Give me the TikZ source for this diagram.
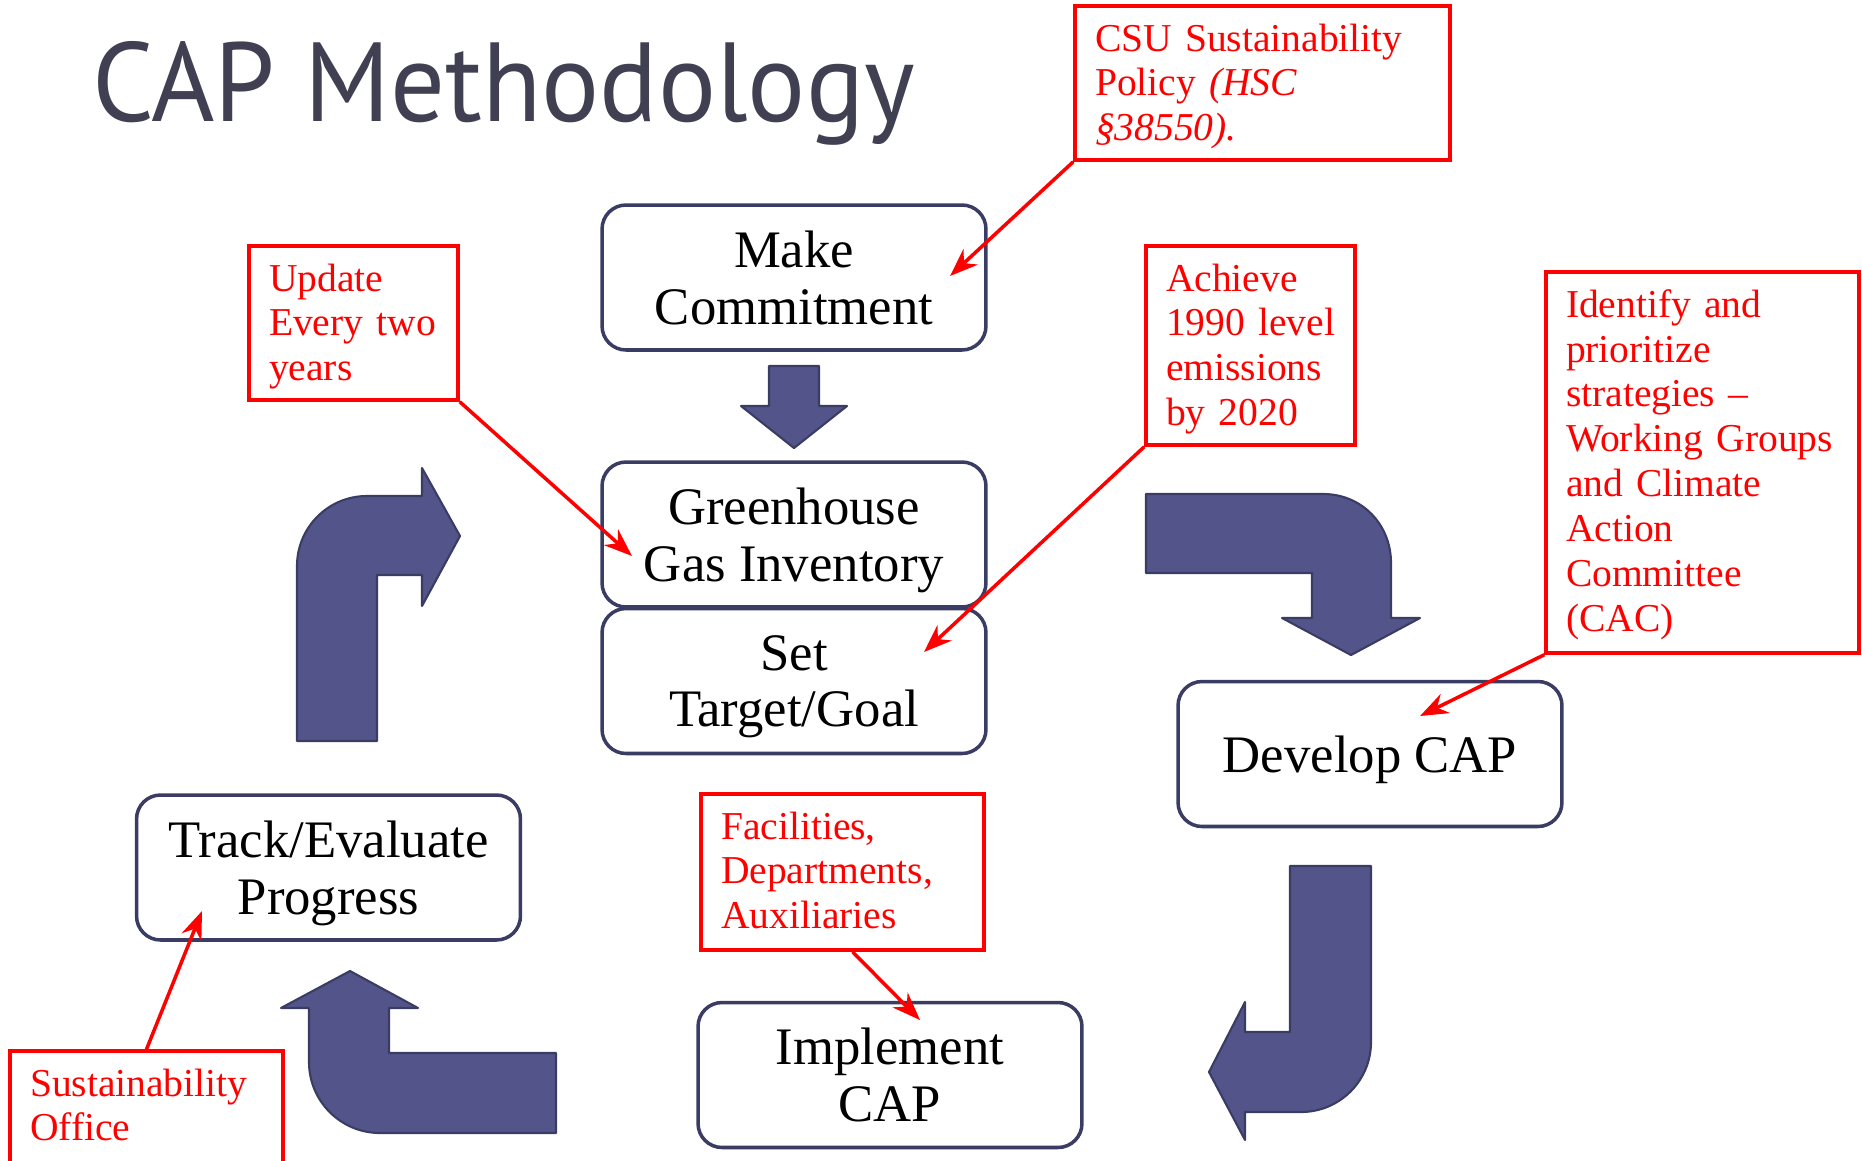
\documentclass[tikz,border=0pt]{standalone}
\usepackage{fontspec}
\setmainfont{Liberation Serif}
\newfontfamily\headfont{PT Sans}
\usetikzlibrary{arrows.meta}
\definecolor{titlegray}{RGB}{64,64,82}
\definecolor{boxline}{RGB}{58,60,100}
\definecolor{arrowfill}{RGB}{83,85,138}
\definecolor{calloutred}{RGB}{255,0,0}

\begin{document}
\begin{tikzpicture}[x=0.02cm,y=-0.02cm,
  stepbox/.style={draw=boxline, line width=2pt, rounded corners=0.48cm, fill=white,
    minimum width=7.68cm, minimum height=2.9cm, inner sep=0pt, align=center,
    text depth=0pt, font=\fontsize{30}{32.4}\selectfont},
  % first baseline sits 0.9cm below the top edge of a callout
  callout/.style={draw=calloutred, line width=2pt, text=calloutred, fill=white,
    inner xsep=0.4cm, inner ysep=0pt, align=left, text height=0.9cm,
    font=\fontsize{22.5}{25.6}\selectfont},
  blockarrow/.style={fill=arrowfill, draw=boxline, line width=1.2pt, line join=round},
  pointer/.style={draw=calloutred, line width=2pt, -{Stealth[length=16pt,width=12pt]}}
]
\useasboundingbox (0,0) rectangle (1862,1160);
\clip (0,0) rectangle (1862,1160);

% heading
\node[anchor=base west, inner sep=0pt, text=titlegray,
      font=\headfont\fontsize{64}{70}\selectfont] (title) at (92,121)
  {\scalebox{0.965}[1]{CAP Methodology}};

% block arrows of the cycle
\draw[blockarrow] (769,366) -- (819,366) -- (819,406) -- (847,406) -- (794,448)
  -- (741,406) -- (769,406) -- cycle;
\draw[blockarrow] (1146,494) -- (1323,494) .. controls (1361.7,494) and (1391,524.3) .. (1391,563)
  -- (1391,618) -- (1420,618) -- (1351,655) -- (1282,618) -- (1312,618) -- (1312,573)
  -- (1146,573) -- cycle;
\draw[blockarrow] (1290,866) -- (1371,866) -- (1371,1042)
  .. controls (1371,1080.7) and (1339.7,1112) .. (1301,1112)
  -- (1245,1112) -- (1245,1140) -- (1209,1072) -- (1245,1002) -- (1245,1032)
  -- (1290,1032) -- cycle;
\draw[blockarrow] (556,1053) -- (556,1133) -- (380,1133)
  .. controls (340.8,1133) and (309,1101.2) .. (309,1062)
  -- (309,1008) -- (281,1008) -- (350,971) -- (418,1008) -- (389,1008) -- (389,1053) -- cycle;
\draw[blockarrow] (297,741) -- (297,566) .. controls (297,527.3) and (328.3,496) .. (367,496)
  -- (422,496) -- (422,468) -- (460,536) -- (422,606) -- (422,575) -- (377,575)
  -- (377,741) -- cycle;

% steps
\node[stepbox] (mc)  at (794,277.5) {Make\\Commitment};
\node[stepbox] (ghg) at (794,534.5) {Greenhouse\\Gas Inventory};
\node[stepbox] (set) at (794,681)   {Set\\Target/Goal};
\node[stepbox] (dev) at (1370,754)  {Develop CAP};
\node[stepbox] (imp) at (890,1075)  {Implement\\CAP};
\node[stepbox] (trk) at (328.5,867.5) {Track/Evaluate\\Progress};

% callouts
\node[callout, minimum width=7.5cm, text width=6.7cm, text depth=2.18cm] (csu) at (1262.5,83)
  {CSU~Sustainability\\Policy \textit{(HSC}\\\textit{§38550).}};
\node[callout, minimum width=4.18cm, text width=3.38cm, text depth=2.18cm] (upd) at (353.5,323)
  {Update\\Every~two\\years};
\node[callout, minimum width=4.18cm, text width=3.38cm, text depth=3.08cm] (ach) at (1250.5,345.5)
  {Achieve\\1990~level\\emissions\\by~2020};
\node[callout, minimum width=6.26cm, text width=5.46cm, text depth=6.72cm] (idf) at (1702.5,462.5)
  {Identify~and\\prioritize\\strategies~–\\Working~Groups\\and~Climate\\Action\\Committee\\(CAC)};
\node[callout, minimum width=5.66cm, text width=4.86cm, text depth=2.22cm] (fac) at (842.5,872)
  {Facilities,\\Departments,\\Auxiliaries};
\node[callout, minimum width=5.46cm, text width=4.66cm, text depth=1.48cm] (sus) at (146.5,1110.5)
  {Sustainability\\Office};

% pointer targets
\coordinate (mc-pt)  at (950,276);
\coordinate (ghg-pt) at (632,556);
\coordinate (set-pt) at (924,652);
\coordinate (dev-pt) at (1420,716);
\coordinate (imp-pt) at (920,1020);
\coordinate (trk-pt) at (202,911);

\draw[pointer] (csu.south west) -- (mc-pt);
\draw[pointer] (upd.south east) -- (ghg-pt);
\draw[pointer] (ach.south west) -- (set-pt);
\draw[pointer] (idf.south west) -- (dev-pt);
\draw[pointer] ([xshift=0.2cm]fac.south) -- (imp-pt);
\draw[pointer] (sus.north) -- (trk-pt);
\end{tikzpicture}
\end{document}
